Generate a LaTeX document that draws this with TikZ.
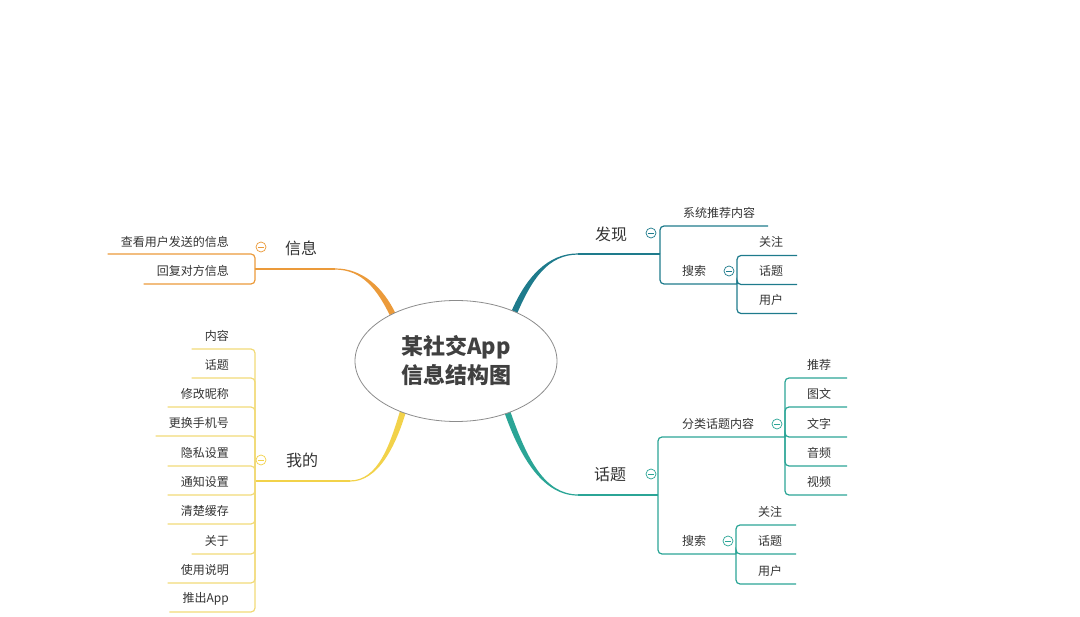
\documentclass[tikz,border=0pt]{standalone}
\usepackage{fontspec}
\setmainfont{Noto Sans CJK SC}
\usetikzlibrary{shapes.geometric}
\definecolor{txt}{HTML}{333333}
\definecolor{cxin}{HTML}{EB9A3A}
\definecolor{cwo}{HTML}{F2D24A}
\definecolor{cwol}{HTML}{F1DA78}
\definecolor{cfa}{HTML}{1E7B8C}
\definecolor{chua}{HTML}{2BA596}
\begin{document}
\begin{tikzpicture}[x=1pt,y=-1pt,
  kid/.style={font=\fontsize{12}{14}\selectfont, text=txt, inner xsep=13pt, inner ysep=2pt},
  gkid/.style={kid, inner xsep=#1},
  branch/.style={font=\fontsize{16}{18}\selectfont, text=txt, inner sep=1pt},
  conn/.style={line width=1.2pt, rounded corners=4pt},
  tog/.style={circle, draw, color=#1, fill=white, minimum size=10pt, inner sep=0pt, line width=0.7pt,
    path picture={\draw[line width=0.7pt] ([xshift=-2.6pt]path picture bounding box.center) -- ([xshift=2.6pt]path picture bounding box.center);}}
]
\useasboundingbox (0,0) rectangle (1080,617);

% tapered main branches
\fill[cxin] (335,268.4) .. controls (362,268.4) and (382.7,286.7) .. (395.7,313.7) -- (390.3,316.3) .. controls (377.3,289.3) and (362,269.6) .. (335,269.6) -- cycle;
\fill[cfa] (578,253.4) .. controls (548,253.4) and (526.2,276.8) .. (511.2,311.8) -- (516.8,314.2) .. controls (531.8,279.2) and (548,254.6) .. (578,254.6) -- cycle;
\fill[chua] (578,494.4) .. controls (545,494.4) and (526.8,460.0) .. (508.8,407.0) -- (503.2,409.0) .. controls (521.2,462.0) and (545,495.6) .. (578,495.6) -- cycle;
\fill[cwo] (350,480.4) .. controls (378,480.4) and (390.1,445.2) .. (401.1,407.2) -- (406.9,408.8) .. controls (395.9,446.8) and (378,481.6) .. (350,481.6) -- cycle;

% root
\node[ellipse, draw=black!45, fill=white, line width=0.8pt, minimum width=202pt, minimum height=121pt,
  align=center, text=black!75, font=\bfseries\fontsize{22}{29}\selectfont] (root) at (456,361) {某社交App\\信息结构图};

% ---------- 信息 ----------
\coordinate (Ei) at (335,269);
\coordinate (Ji) at (255,269);
\draw[conn, cxin] (Ei) -- (Ji);
\node[branch] (xin) at (301,248) {信息};
\node[tog=cxin] (ti) at (261,247) {};
\node[kid, anchor=east] (i1) at (242,242) {查看用户发送的信息};
\node[kid, anchor=east] (i2) at (242,271) {回复对方信息};
\draw[conn, cxin] (Ji) |- (i1.west |- 0,254);
\draw[conn, cxin] (Ji) |- (i2.west |- 0,284);

% ---------- 我的 ----------
\coordinate (Em) at (350,481);
\coordinate (Jm) at (255,481);
\draw[conn, cwo] (Em) -- (Jm);
\node[branch] (wo) at (302,460) {我的};
\node[tog=cwo] (tm) at (261,460) {};
\foreach \t/\y [count=\i] in {内容/336, 话题/365, 修改昵称/394, 更换手机号/423, 隐私设置/453, 通知设置/482, 清楚缓存/511, 关于/541, 使用说明/570, 推出App/599}{
  \node[kid, anchor=east] (m\i) at (242,\y) {\t};
  \draw[conn, cwol] (Jm) |- (m\i.west |- 0,\y+13);
}

% ---------- 发现 ----------
\coordinate (Ef) at (578,254);
\coordinate (Jf) at (660,254);
\draw[conn, cfa] (Ef) -- (Jf);
\node[branch] (fa) at (611,234) {发现};
\node[tog=cfa] (tf) at (651,233) {};
\node[kid] (f1) at (719,213) {系统推荐内容};
\draw[conn, cfa] (Jf) |- (f1.east |- 0,226);
\node[kid] (f2) at (694,271) {搜索};
\coordinate (Jfs) at (737,284);
\draw[conn, cfa] (Jf) |- (Jfs);
\node[tog=cfa] (tfs) at (729,271) {};
\foreach \t/\y [count=\i] in {关注/242, 话题/271, 用户/300}{
  \node[gkid=14pt] (fs\i) at (771,\y) {\t};
  \draw[conn, cfa] (Jfs) |- (fs\i.east |- 0,\y+13.5);
}

% ---------- 话题 ----------
\coordinate (Et) at (578,495);
\coordinate (Jt) at (658,495);
\draw[conn, chua] (Et) -- (Jt);
\node[branch] (hua) at (610,474) {话题};
\node[tog=chua] (tt) at (651,474) {};
\node[kid] (t1) at (718,424) {分类话题内容};
\coordinate (Jtc) at (785,437);
\draw[conn, chua] (Jt) |- (Jtc);
\node[tog=chua] (ttc) at (777,424) {};
\foreach \t/\y [count=\i] in {推荐/365, 图文/394, 文字/424, 音频/453, 视频/482}{
  \node[gkid=16pt] (tc\i) at (819,\y) {\t};
  \draw[conn, chua] (Jtc) |- (tc\i.east |- 0,\y+13);
}
\node[kid] (t2) at (694,541) {搜索};
\coordinate (Jts) at (736,554);
\draw[conn, chua] (Jt) |- (Jts);
\node[tog=chua] (tts) at (728,541) {};
\foreach \t/\y [count=\i] in {关注/512, 话题/541, 用户/571}{
  \node[gkid=14pt] (ts\i) at (770,\y) {\t};
  \draw[conn, chua] (Jts) |- (ts\i.east |- 0,\y+13);
}
\end{tikzpicture}
\end{document}
